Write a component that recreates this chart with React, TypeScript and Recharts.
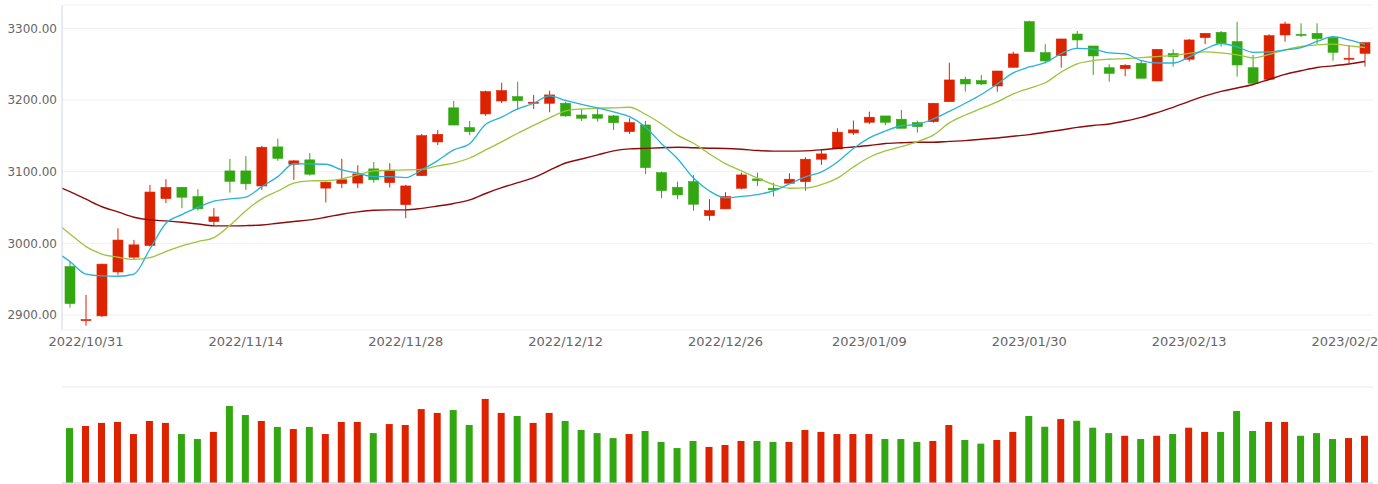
import React from 'react';
import { ComposedChart, Bar, Line, XAxis, YAxis, CartesianGrid, Cell } from 'recharts';

const dates = [
  '2022/10/28', '2022/10/31',
  '2022/11/01', '2022/11/02', '2022/11/03', '2022/11/04', '2022/11/07', '2022/11/08', '2022/11/09', '2022/11/10', '2022/11/11',
  '2022/11/14', '2022/11/15', '2022/11/16', '2022/11/17', '2022/11/18', '2022/11/21', '2022/11/22', '2022/11/23', '2022/11/24',
  '2022/11/25', '2022/11/28', '2022/11/29', '2022/11/30',
  '2022/12/01', '2022/12/02', '2022/12/05', '2022/12/06', '2022/12/07', '2022/12/08', '2022/12/09', '2022/12/12', '2022/12/13',
  '2022/12/14', '2022/12/15', '2022/12/16', '2022/12/19', '2022/12/20', '2022/12/21', '2022/12/22', '2022/12/23', '2022/12/26',
  '2022/12/27', '2022/12/28', '2022/12/29', '2022/12/30',
  '2023/01/03', '2023/01/04', '2023/01/05', '2023/01/06', '2023/01/09', '2023/01/10', '2023/01/11', '2023/01/12', '2023/01/13',
  '2023/01/16', '2023/01/17', '2023/01/18', '2023/01/19', '2023/01/20', '2023/01/30', '2023/01/31',
  '2023/02/01', '2023/02/02', '2023/02/03', '2023/02/06', '2023/02/07', '2023/02/08', '2023/02/09', '2023/02/10', '2023/02/13',
  '2023/02/14', '2023/02/15', '2023/02/16', '2023/02/17', '2023/02/20', '2023/02/21', '2023/02/22', '2023/02/23', '2023/02/24',
  '2023/02/27', '2023/02/28',
];

const labelDates = ['2022/10/31', '2022/11/14', '2022/11/28', '2022/12/12', '2022/12/26', '2023/01/09', '2023/01/30', '2023/02/13', '2023/02/27'];

const open = [
  2967.5, 2892.5, 2898.7, 2960, 2980.6, 2997, 3062.4, 3078.2, 3065.2, 3030.3,
  3101, 3101, 3080, 3134.5, 3110.3, 3116.4, 3077, 3083.5, 3084, 3103.8,
  3084.7, 3054, 3094.4, 3141.4, 3189, 3161.4, 3180.5, 3198.6, 3204.6, 3195.4,
  3195.4, 3195.4, 3179, 3179.5, 3177.7, 3155.8, 3165.1, 3098.6, 3078.2, 3086,
  3038.6, 3048, 3076.8, 3089.8, 3076.8, 3083.8, 3086, 3117.3, 3131.7, 3154,
  3168.9, 3177.7, 3173.1, 3168.3, 3169.7, 3197.6, 3228.9, 3227, 3219.5, 3245.6,
  3309.2, 3266, 3261.8, 3292, 3275.3, 3245, 3243.7, 3251.2, 3226.5, 3264.7,
  3256.8, 3287, 3294.4, 3281.3, 3245, 3228.9, 3290.7, 3291.6, 3293, 3287,
  3256.8, 3265.1,
];

const close = [
  2915.9, 2893.5, 2970.9, 3004.5, 2997.8, 3071.5, 3078, 3064.3, 3048.2, 3036.8,
  3086.5, 3083, 3134, 3118.5, 3115, 3096.4, 3085.3, 3088.6, 3096.8, 3088.6,
  3101, 3080, 3150.2, 3152, 3165, 3155.8, 3211.6, 3213, 3199, 3196.8,
  3207, 3177.7, 3174.5, 3174.5, 3168.3, 3168.3, 3105.6, 3073.5, 3067.5, 3054.5,
  3045.6, 3065.2, 3095.4, 3087.5, 3074.5, 3089.4, 3117.3, 3124.7, 3155, 3158.2,
  3175.9, 3168.9, 3160.5, 3162.8, 3195.4, 3227.9, 3222.3, 3222.3, 3240.4, 3264.2,
  3267.4, 3254.4, 3285.1, 3283.7, 3261.4, 3237.2, 3248.4, 3230.3, 3270.7, 3260.4,
  3283.7, 3293, 3279, 3248.8, 3223.3, 3289.7, 3306, 3290.2, 3285.6, 3266.5,
  3258.2, 3279.9,
];

const high = [
  2974.5, 2928, 2971.5, 3021, 3004.7, 3081.5, 3089.4, 3078.5, 3075.5, 3049,
  3117.7, 3121.9, 3136, 3146, 3116, 3126, 3086, 3118, 3109, 3113.4,
  3111.7, 3081.5, 3152.6, 3158, 3198.7, 3170.7, 3213, 3224, 3225.5, 3207,
  3213, 3197.6, 3187, 3189, 3179, 3174.5, 3170.7, 3100, 3086, 3095.4,
  3061.5, 3071.3, 3098.6, 3098.6, 3084.6, 3097.7, 3120, 3131, 3160.5, 3171.2,
  3183.7, 3177.7, 3186, 3171.2, 3195.4, 3252, 3232.5, 3234.9, 3240.4, 3267.4,
  3310.6, 3277.7, 3285.1, 3296.2, 3275.3, 3249.8, 3249.8, 3255.8, 3270.7, 3270.7,
  3285.1, 3293, 3296.2, 3309.2, 3262.8, 3291.6, 3309.2, 3307, 3307, 3289.4,
  3276.8, 3279.9,
];

const low = [
  2910.3, 2885, 2897, 2956, 2977.8, 2995.4, 3056, 3049, 3045.6, 3024.3,
  3070.7, 3074.5, 3074.5, 3115, 3088.4, 3094.4, 3057, 3077, 3077, 3084.6,
  3077.7, 3035, 3094, 3137, 3165, 3150.8, 3177.7, 3195.5, 3186, 3187.5,
  3182.8, 3176.7, 3170.7, 3169.7, 3158.2, 3152.6, 3096.4, 3062.9, 3061.5, 3045.6,
  3031.7, 3048, 3075.4, 3080, 3065.2, 3082.8, 3073.5, 3109.4, 3131.7, 3151.2,
  3166.5, 3165, 3160.5, 3154.4, 3168.3, 3197.6, 3211.6, 3220.9, 3211.6, 3245.6,
  3267.4, 3251.2, 3245, 3272.1, 3234.9, 3225.5, 3233.1, 3230.3, 3226.5, 3246.5,
  3253.5, 3278, 3274.3, 3232.5, 3223.3, 3228.9, 3281.3, 3287.5, 3278, 3254.8,
  3251.2, 3246.5,
];

const volume = [
  286, 297, 313, 318, 255, 323, 313, 255, 229, 266,
  401, 354, 323, 292, 281, 292, 255, 318, 318, 260,
  307, 302, 385, 365, 380, 302, 438, 365, 349, 313,
  365, 323, 276, 260, 234, 255, 271, 214, 182, 219,
  188, 198, 219, 219, 214, 214, 276, 266, 255, 255,
  255, 229, 229, 214, 219, 302, 224, 205, 224, 266,
  349, 293, 333, 324, 288, 260, 246, 229, 246, 255,
  288, 266, 266, 375, 271, 318, 318, 246, 260, 229,
  234, 246,
];

// moving averages, first value is the session before the window (clipped off the left edge)
const ma5 = [
  2990, 2974.5, 2957, 2954.5, 2954, 2957, 2992, 3028, 3040, 3050, 3058.7,
  3062, 3064.5, 3079, 3093, 3111, 3110.7, 3110.3, 3102.4, 3097.8, 3093,
  3093, 3091.7, 3102.4, 3115.4, 3130.3, 3139, 3166, 3176, 3187.5, 3195.4,
  3205.6, 3199.3, 3193.8, 3189, 3183.3, 3176.7, 3162, 3139, 3118, 3091,
  3073, 3063.5, 3065.4, 3068, 3073, 3082.8, 3092.6, 3099.6, 3113.5, 3132.3,
  3147, 3156.7, 3164, 3166, 3173.5, 3184, 3195.4, 3207.7, 3222.3, 3237.7,
  3246, 3252, 3264.8, 3272, 3271, 3265.6, 3264.2, 3255, 3251.6, 3251.6,
  3260, 3271, 3278.8, 3274.2, 3266.5, 3267, 3269.7, 3273, 3281.6, 3288.3,
  3283.7, 3277.4,
];

const ma10 = [
  3031, 3013, 2995.4, 2985, 2980.5, 2977.5, 2980, 2988.4, 2996.4, 3002.4, 3008,
  3025, 3045.5, 3062, 3073, 3083.8, 3087, 3087.5, 3090, 3095.4, 3101,
  3102, 3102.3, 3103, 3108, 3112, 3119, 3130.3, 3141.4, 3153.6, 3164.5,
  3175, 3184.6, 3187.4, 3188.4, 3189, 3189.8, 3180, 3166.5, 3151, 3139.5,
  3124.6, 3111.1, 3101, 3091, 3082, 3076.8, 3077.2, 3082, 3091, 3106.4,
  3120, 3128.8, 3135, 3142, 3151, 3168, 3179, 3188.2, 3197.2, 3208.4,
  3216.3, 3224, 3239, 3250.5, 3255, 3256.8, 3257.7, 3259, 3260.6, 3262,
  3265, 3267, 3265.6, 3263, 3258.6, 3263.5, 3270, 3274.6, 3277, 3278,
  3275.6, 3273.2,
];

const ma30 = [
  3081.5, 3072, 3061.5, 3051, 3043.8, 3036.4, 3032.6, 3031.2, 3029.4, 3027, 3024.3,
  3024.3, 3024.7, 3025.6, 3028, 3030.3, 3032.6, 3036.4, 3040.6, 3043.8, 3046,
  3046.6, 3046.6, 3048.7, 3052, 3055.6, 3060.5, 3069.5, 3077.6, 3084.6, 3091.6,
  3102, 3112, 3117.6, 3123.3, 3129, 3131.7, 3132.5, 3133.3, 3134, 3133.3,
  3132.7, 3132.3, 3131.2, 3129.5, 3128.6, 3128.6, 3129, 3130.5, 3132.6, 3134.4,
  3136.5, 3139.3, 3140.3, 3141, 3141, 3142.2, 3143.3, 3145.2, 3147, 3149.4,
  3151.6, 3155, 3158, 3161.7, 3164.4, 3166.5, 3170.6, 3175.7, 3182.4, 3189.7,
  3198, 3205.6, 3212, 3216.7, 3221.6, 3228.6, 3235.6, 3240.7, 3245.3, 3247.6,
  3250.2, 3253.7,
];

const priceTicks = [2900, 3000, 3100, 3200, 3300];
const volumeTicks = [0, 100, 200, 300, 400, 500];

const UP = '#dd2200';
const DOWN = '#33a711';

const rows = dates.map((date, i) => ({
  date,
  open: open[i],
  close: close[i],
  high: high[i],
  low: low[i],
  range: [low[i], high[i]],
  volume: volume[i],
}));

const maRows = ma5.map((v, k) => ({ i: k - 1, ma5: v, ma10: ma10[k], ma30: ma30[k] }));

const Candle = (props: any) => {
  const { x, y, width, height, payload } = props;
  if (!payload) return null;
  const top = Math.min(y, y + height);
  const h = Math.abs(height);
  const span = payload.high - payload.low || 1;
  const pix = (v: number) => top + ((payload.high - v) / span) * h;
  const color = payload.close >= payload.open ? UP : DOWN;
  const cx = x + width / 2;
  const bTop = pix(Math.max(payload.open, payload.close));
  const bBot = pix(Math.min(payload.open, payload.close));
  const bw = 10;
  return (
    <g>
      <line x1={cx} x2={cx} y1={top} y2={top + h} stroke={color} strokeWidth={1} />
      <rect x={cx - bw / 2} y={bTop} width={bw} height={Math.max(bBot - bTop, 1)} fill={color} stroke={color} strokeWidth={0.6} />
    </g>
  );
};

const App: React.FC = () => {
  return (
    <div style={{ position: 'absolute', left: 0, top: 0, width: 1378, height: 484, background: '#fff', fontFamily: 'DejaVu Sans' }}>
      <ComposedChart width={1378} height={365} data={rows} margin={{ top: 5, right: 5, bottom: 0, left: 0 }}>
        <CartesianGrid vertical={false} stroke="#eef1f6" />
        <XAxis
          dataKey="date"
          ticks={labelDates}
          interval={0}
          height={35}
          tickLine={false}
          axisLine={false}
          tickSize={5}
          tickMargin={2}
          tick={{ fontSize: 13, fill: '#666' }}
        />
        <XAxis xAxisId="num" type="number" dataKey="i" domain={[-0.5, 81.5]} hide allowDataOverflow />
        <YAxis
          domain={[2879, 3332.5]}
          ticks={priceTicks}
          width={62}
          axisLine={{ stroke: '#ccd6eb' }}
          tickLine={false}
          tickSize={3}
          tickMargin={2}
          tickFormatter={(v: number) => v.toFixed(2)}
          tick={{ fontSize: 12, fill: '#666' }}
        />
        <Bar dataKey="range" barSize={10} shape={(p: any) => <Candle {...p} />} isAnimationActive={false} />
        <Line xAxisId="num" data={maRows} dataKey="ma30" type="monotone" stroke="#8e0b0b" strokeWidth={1.4} dot={false} isAnimationActive={false} />
        <Line xAxisId="num" data={maRows} dataKey="ma10" type="monotone" stroke="#9cc43d" strokeWidth={1.3} dot={false} isAnimationActive={false} />
        <Line xAxisId="num" data={maRows} dataKey="ma5" type="monotone" stroke="#27b2d8" strokeWidth={1.3} dot={false} isAnimationActive={false} />
      </ComposedChart>
      <ComposedChart width={1378} height={119} data={rows} margin={{ top: 22, right: 5, bottom: 0, left: 0 }}>
        <CartesianGrid vertical={false} stroke="#e9e9e9" />
        <XAxis dataKey="date" height={1} tick={false} tickLine={false} axisLine={{ stroke: '#ccd6eb' }} />
        <YAxis domain={[0, 500]} ticks={volumeTicks} width={62} tick={false} tickLine={false} axisLine={false} />
        <Bar dataKey="volume" barSize={7} isAnimationActive={false}>
          {rows.map((r, i) => (
            <Cell key={i} fill={r.close >= r.open ? UP : DOWN} />
          ))}
        </Bar>
      </ComposedChart>
    </div>
  );
};

export default App;
